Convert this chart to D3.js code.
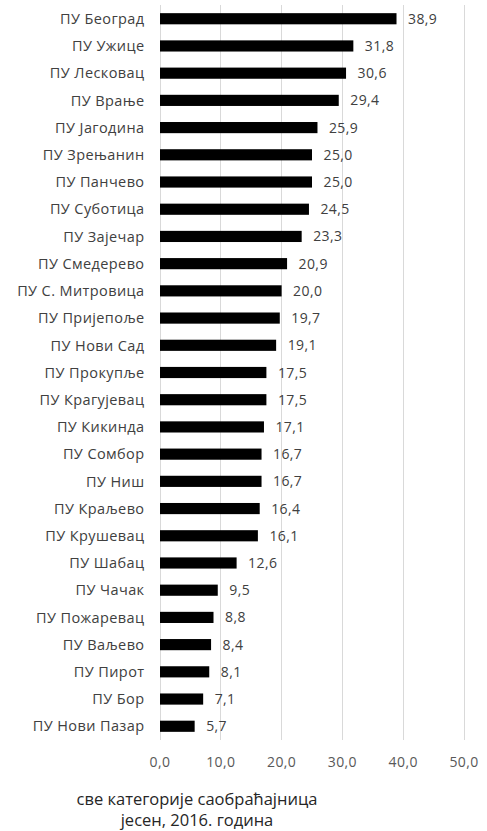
<!DOCTYPE html>
<html>
<head>
<meta charset="utf-8">
<script src="https://cdn.jsdelivr.net/npm/d3@7"></script>
<style>
  html, body { margin: 0; padding: 0; background: #fff; }
  svg { display: block; font-family: "Open Sans", "Noto Sans", sans-serif; }
</style>
</head>
<body>
<div id="chart"></div>
<script>
// Police administrations and their values (autumn 2016, all road categories)
const categories = [
  "ПУ Београд", "ПУ Ужице", "ПУ Лесковац", "ПУ Врање", "ПУ Јагодина",
  "ПУ Зрењанин", "ПУ Панчево", "ПУ Суботица", "ПУ Зајечар", "ПУ Смедерево",
  "ПУ С. Митровица", "ПУ Пријепоље", "ПУ Нови Сад", "ПУ Прокупље", "ПУ Крагујевац",
  "ПУ Кикинда", "ПУ Сомбор", "ПУ Ниш", "ПУ Краљево", "ПУ Крушевац",
  "ПУ Шабац", "ПУ Чачак", "ПУ Пожаревац", "ПУ Ваљево", "ПУ Пирот",
  "ПУ Бор", "ПУ Нови Пазар"
];
const values = [
  38.9, 31.8, 30.6, 29.4, 25.9,
  25.0, 25.0, 24.5, 23.3, 20.9,
  20.0, 19.7, 19.1, 17.5, 17.5,
  17.1, 16.7, 16.7, 16.4, 16.1,
  12.6, 9.5, 8.8, 8.4, 8.1,
  7.1, 5.7
];
const xTicks = [0, 10, 20, 30, 40, 50];
const titleLines = ["све категорије саобраћајница", "јесен, 2016. година"];

const W = 487, H = 831;
const margin = { top: 5, left: 159.5, right: 23.5, bottom: 91 };

const data = categories.map((c, i) => ({ name: c, value: values[i] }));
const fmt = v => v.toFixed(1).replace(".", ",");

const svg = d3.select("#chart").append("svg")
  .attr("width", W).attr("height", H);

const x = d3.scaleLinear().domain([0, 50]).range([margin.left, W - margin.right]);
const y = d3.scaleBand().domain(categories)
  .range([margin.top, H - margin.bottom]).paddingInner(0.59).paddingOuter(0.3);

// vertical gridlines
svg.append("g").selectAll("line").data(xTicks).join("line")
  .attr("x1", d => Math.round(x(d)) + 0.5).attr("x2", d => Math.round(x(d)) + 0.5)
  .attr("y1", margin.top).attr("y2", H - margin.bottom)
  .attr("stroke", "#d9d9d9").attr("stroke-width", 1);

// bars
svg.append("g").selectAll("rect").data(data).join("rect")
  .attr("x", x(0) + 0.5)
  .attr("y", d => y(d.name))
  .attr("width", d => x(d.value) - x(0))
  .attr("height", y.bandwidth())
  .attr("fill", "#000");

// value labels
svg.append("g").selectAll("text").data(data).join("text")
  .attr("x", d => x(d.value) + 12)
  .attr("y", d => y(d.name) + y.bandwidth() / 2)
  .attr("dy", "0.36em")
  .attr("font-size", 14)
  .attr("letter-spacing", 0.4)
  .attr("fill", "#404040")
  .text(d => fmt(d.value));

// category axis labels
svg.append("g").selectAll("text").data(data).join("text")
  .attr("x", 144.5)
  .attr("y", d => y(d.name) + y.bandwidth() / 2)
  .attr("dy", "0.36em")
  .attr("text-anchor", "end")
  .attr("font-size", 14.5)
  .attr("letter-spacing", 0.4)
  .attr("fill", "#404040")
  .text(d => d.name);

// x axis tick labels
const xAxis = d3.axisBottom(x).tickValues(xTicks).tickFormat(fmt).tickSize(0).tickPadding(17);
const gx = svg.append("g")
  .attr("transform", `translate(0,${H - margin.bottom})`)
  .call(xAxis);
gx.select(".domain").remove();
gx.selectAll("text")
  .attr("font-size", 14)
  .attr("letter-spacing", 0.4)
  .attr("font-family", "\"Open Sans\", \"Noto Sans\", sans-serif")
  .attr("fill", "#595959");

// caption below the axis
svg.append("g").selectAll("text").data(titleLines).join("text")
  .attr("x", 197)
  .attr("y", (d, i) => 805 + i * 21)
  .attr("text-anchor", "middle")
  .attr("font-size", 16.5)
  .attr("fill", "#262626")
  .text(d => d);
</script>
</body>
</html>
